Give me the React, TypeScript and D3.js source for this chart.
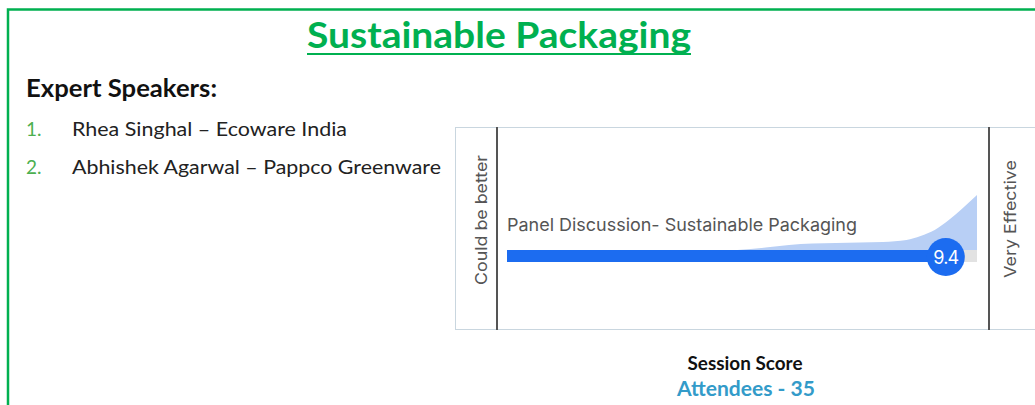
import React from 'react'
import * as d3 from 'd3'

// slide text
const title = 'Sustainable Packaging'
const speakersHeading = 'Expert Speakers:'
const speakers = ['Rhea Singhal – Ecoware India', 'Abhishek Agarwal – Pappco Greenware']

// scale question
const question = 'Panel Discussion- Sustainable Packaging'
const lowLabel = 'Could be better'
const highLabel = 'Very Effective'
const scoreDomain = [0, 10]
const averageScore = 9.4
const footerLabel = 'Session Score'
const attendees = 35

// distribution of answers along the scale (score, relative density)
const distScores = [4.9, 5.5, 6.0, 6.5, 7.0, 7.5, 8.0, 8.5, 8.8, 9.1, 9.4, 9.7, 10]
const distDensity = [0, 2.5, 5, 6.5, 7, 7.5, 8, 10, 14, 20, 30, 42, 55]

const GREEN = '#00b050'
const BLUE = '#1c6cf0'

const App = () => {
  const width = 1035
  const height = 405

  const x = d3.scaleLinear().domain(scoreDomain).range([507, 977])
  const barY = 250
  const barH = 12
  const y = d3.scaleLinear().domain([0, 55]).range([barY, barY - 55])

  const dist = distScores.map((s, i) => ({ s, d: distDensity[i] }))
  const area = d3.area<{ s: number; d: number }>()
    .x(p => x(p.s))
    .y0(barY)
    .y1(p => y(p.d))
    .curve(d3.curveMonotoneX)

  const chartFont = 'Inter, Roboto, sans-serif'
  const slideFont = 'Lato, "Open Sans", sans-serif'

  return (
    <svg width={width} height={height} style={{ position: 'absolute', left: 0, top: 0, background: '#fff' }}>
      <rect x={0} y={0} width={width} height={height} fill="#fff" />
      {/* slide frame */}
      <path d={`M8,${height + 5} L8,9.5 L${width + 5},9.5`} fill="none" stroke={GREEN} strokeWidth={2.5} />

      {/* title */}
      <text x={499} y={48} textAnchor="middle" fontFamily={slideFont} fontWeight="bold" fontSize={37}
        fill={GREEN} textLength={384} lengthAdjust="spacingAndGlyphs">{title}</text>
      <line x1={307} x2={691} y1={54} y2={54} stroke={GREEN} strokeWidth={2} />

      <text x={26} y={97} fontFamily={slideFont} fontWeight="bold" fontSize={24} fill="#111"
        textLength={191} lengthAdjust="spacingAndGlyphs">{speakersHeading}</text>
      {speakers.map((s, i) => (
        <g key={s}>
          <text x={26} y={136 + i * 38} fontFamily={slideFont} fontSize={19} fill="#4caf50">{`${i + 1}.`}</text>
          <text x={72} y={136 + i * 38} fontFamily={slideFont} fontSize={19.5} fill="#222"
            textLength={i === 0 ? 275 : 369} lengthAdjust="spacingAndGlyphs">{s}</text>
        </g>
      ))}

      {/* scale panel */}
      <rect x={455.5} y={127.5} width={600} height={202} fill="#fff" stroke="#c9d6df" strokeWidth={1} />
      <line x1={497} x2={497} y1={127} y2={330} stroke="#555" strokeWidth={2} />
      <line x1={989} x2={989} y1={127} y2={330} stroke="#555" strokeWidth={2} />

      <text transform="translate(487,220) rotate(-90)" textAnchor="middle" fontFamily={chartFont} fontSize={16.5}
        fill="#555" textLength={130} lengthAdjust="spacingAndGlyphs">{lowLabel}</text>
      <text transform="translate(1016,219) rotate(-90)" textAnchor="middle" fontFamily={chartFont} fontSize={16.5}
        fill="#555" textLength={118} lengthAdjust="spacingAndGlyphs">{highLabel}</text>

      <text x={507} y={231} fontFamily={chartFont} fontSize={17.5} fill="#555"
        textLength={350} lengthAdjust="spacingAndGlyphs">{question}</text>

      <path d={area(dist) ?? ''} fill="#b8cff5" />
      <rect x={x(scoreDomain[0])} y={barY} width={x(scoreDomain[1]) - x(scoreDomain[0])} height={barH} fill="#e2e2e2" />
      <rect x={x(scoreDomain[0])} y={barY} width={x(averageScore) - x(scoreDomain[0])} height={barH} fill={BLUE} />
      <circle cx={x(averageScore) - 3} cy={257} r={19} fill={BLUE} />
      <text x={x(averageScore) - 3} y={263.5} textAnchor="middle" fontFamily={chartFont} fontSize={18}
        fill="#fff" letterSpacing={-0.8}>{averageScore.toFixed(1)}</text>

      {/* footer */}
      <text x={745} y={370} textAnchor="middle" fontFamily={slideFont} fontWeight="bold" fontSize={18} fill="#111"
        textLength={115} lengthAdjust="spacingAndGlyphs">{footerLabel}</text>
      <text x={746} y={396} textAnchor="middle" fontFamily={slideFont} fontWeight="bold" fontSize={20} fill="#339bc9"
        textLength={138} lengthAdjust="spacingAndGlyphs">{`Attendees - ${attendees}`}</text>
    </svg>
  )
}

export default App
